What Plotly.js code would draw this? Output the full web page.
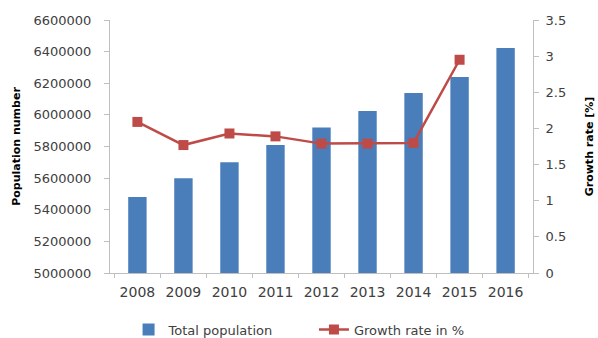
<!DOCTYPE html>
<html><head><meta charset="utf-8">
<script src="https://cdn.plot.ly/plotly-3.0.1.min.js"></script>
<style>html,body{margin:0;padding:0;background:#fff}</style>
</head><body>
<div id="chart" style="width:598px;height:338px"></div>
<script>
const years = ['2008','2009','2010','2011','2012','2013','2014','2015','2016'];
const totalPopulation = [5480000, 5600000, 5700000, 5810000, 5920000, 6025000, 6138000, 6240000, 6423000];
const growthRate = [2.09, 1.77, 1.93, 1.89, 1.79, 1.79, 1.80, 2.95, null];
const leftTicks = [5000000,5200000,5400000,5600000,5800000,6000000,6200000,6400000,6600000];
const rightTicks = [0,0.5,1,1.5,2,2.5,3,3.5];

const tickFont = {family:'DejaVu Sans', size:13, color:'#404040'};
const legFont = {family:'DejaVu Sans', size:13, color:'#404040'};
const data = [
  {type:'bar', name:'Total population', x:years, y:totalPopulation,
   marker:{color:'#4A7EBB'}, yaxis:'y', legend:'legend'},
  {type:'scatter', mode:'lines+markers', name:'Growth rate in %', x:years, y:growthRate,
   line:{color:'#BE4B48', width:2.5}, marker:{symbol:'square', size:10, color:'#BE4B48'},
   yaxis:'y2', connectgaps:false, legend:'legend2'}
];
const layout = {
  width:598, height:338,
  margin:{l:110, r:65, t:20, b:65},
  paper_bgcolor:'#fff', plot_bgcolor:'#fff',
  bargap:0.6,
  showlegend:true,
  legend:{orientation:'h', xref:'container', x:0.215, xanchor:'left', yref:'container', y:0.025, yanchor:'middle',
          font:legFont},
  legend2:{orientation:'h', xref:'container', x:0.525, xanchor:'left', yref:'container', y:0.025, yanchor:'middle',
          font:legFont},
  xaxis:{type:'category', showline:true, linecolor:'#BFBFBF', linewidth:1,
         ticks:'outside', tickson:'boundaries', ticklen:4, tickcolor:'#BFBFBF',
         ticklabelstandoff:6, tickfont:{family:'DejaVu Sans', size:14, color:'#404040'},
         showgrid:false, zeroline:false},
  yaxis:{range:[5000000,6600000], tickvals:leftTicks, ticktext:leftTicks.map(String),
         showline:true, linecolor:'#BFBFBF', ticks:'outside', ticklen:5, tickcolor:'#BFBFBF',
         ticklabelstandoff:10, tickfont:tickFont, showgrid:false, zeroline:false,
         title:{text:'<b>Population number</b>', font:{family:'DejaVu Sans', size:11, color:'#000'}, standoff:10}},
  yaxis2:{range:[0,3.5], tickvals:rightTicks, overlaying:'y', side:'right',
          showline:true, linecolor:'#BFBFBF', ticks:'outside', ticklen:5, tickcolor:'#BFBFBF',
          ticklabelstandoff:4, tickfont:tickFont, showgrid:false, zeroline:false,
          title:{text:'<b>Growth rate [%]</b>', font:{family:'DejaVu Sans', size:11, color:'#000'}, standoff:20}}
};
Plotly.newPlot('chart', data, layout, {displayModeBar:false, staticPlot:true});
</script>
</body></html>
